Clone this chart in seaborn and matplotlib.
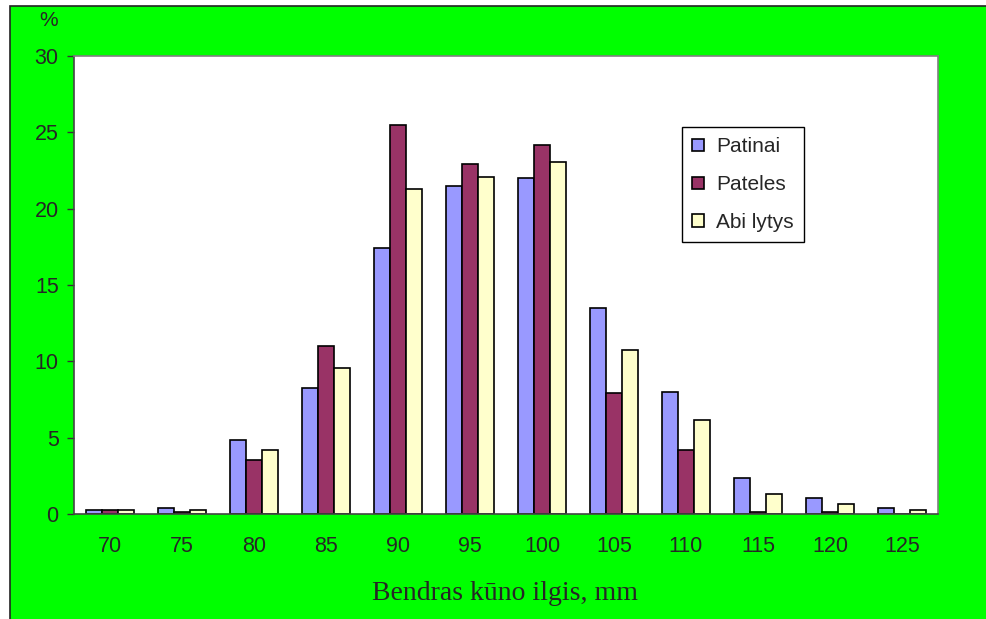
import matplotlib
matplotlib.use("Agg")
import matplotlib.pyplot as plt
from matplotlib.patches import Rectangle
import seaborn as sns
import pandas as pd
import numpy as np

categories = ["70", "75", "80", "85", "90", "95", "100", "105", "110", "115", "120", "125"]
patinai = [0.25, 0.4, 4.85, 8.25, 17.4, 21.5, 22.0, 13.5, 8.0, 2.35, 1.05, 0.4]
pateles = [0.25, 0.1, 3.55, 11.0, 25.5, 22.9, 24.2, 7.9, 4.2, 0.1, 0.1, 0.0]
abi_lytys = [0.25, 0.25, 4.2, 9.55, 21.3, 22.1, 23.05, 10.75, 6.15, 1.3, 0.65, 0.25]
series_names = ["Patinai", "Pateles", "Abi lytys"]
colors = ["#9999FF", "#993366", "#FFFFCC"]

df = pd.DataFrame({
    "cat": categories * 3,
    "val": patinai + pateles + abi_lytys,
    "series": [series_names[0]] * 12 + [series_names[1]] * 12 + [series_names[2]] * 12,
})

sns.set_style("white")
plt.rcParams["font.family"] = ["Liberation Sans", "DejaVu Sans"]

fig = plt.figure(figsize=(9.86, 6.19), dpi=100)
fig.patch.set_facecolor("white")
fig.patches.append(Rectangle((10 / 986, -0.01), 1, 1.01 - 6 / 619, transform=fig.transFigure,
                             facecolor="#00FF00", edgecolor="#222222", linewidth=1.2, zorder=-10))

ax = fig.add_axes([74 / 986, 1 - 514 / 619, (938 - 74) / 986, (514 - 56) / 619])
ax.set_facecolor("white")

sns.barplot(data=df, x="cat", y="val", hue="series", order=categories,
            hue_order=series_names, palette=colors, saturation=1,
            width=0.67, gap=0, edgecolor="black", linewidth=1.2, ax=ax,
            legend=True, errorbar=None)

ax.set_xlim(-0.5, len(categories) - 0.5)
ax.set_ylim(0, 30)
ax.set_yticks(range(0, 31, 5))
ax.set_yticklabels([str(v) for v in range(0, 31, 5)], fontsize=15.5)
ax.set_xticks(range(len(categories)))
ax.set_xticklabels(categories, fontsize=15.5)
ax.set_xticks(np.arange(-0.5, len(categories), 1), minor=True)
ax.tick_params(axis="x", which="major", length=0, pad=16)
ax.tick_params(axis="x", which="minor", length=4.5, width=1, color="#333333", direction="out")
ax.tick_params(axis="y", length=5, width=1, color="#333333", direction="out", pad=6, left=True)
for s in ax.spines.values():
    s.set_visible(True)
    s.set_color("#808080")
    s.set_linewidth(1.2)
ax.spines["bottom"].set_color("#444444")
ax.spines["left"].set_color("#444444")

ax.set_xlabel("")
ax.set_ylabel("")
fig.text(505 / 986, 1 - 594 / 619, "Bendras kūno ilgis, mm", ha="center", va="center",
         fontsize=20, family=["Liberation Serif", "DejaVu Serif"])
fig.text(49 / 986, 1 - 21 / 619, "%", ha="center", va="center", fontsize=15)

handles, labels = ax.get_legend_handles_labels()
ax.legend(handles, labels, loc="upper left", bbox_to_anchor=(682 / 986, 1 - 127 / 619),
          bbox_transform=fig.transFigure, borderaxespad=0, frameon=True, fancybox=False,
          fontsize=15, handlelength=0.55, handleheight=0.55, handletextpad=0.6,
          labelspacing=0.9, borderpad=0.5, edgecolor="black", framealpha=1)
ax.get_legend().get_frame().set_linewidth(1.0)

fig.savefig("out.png", dpi=100)
